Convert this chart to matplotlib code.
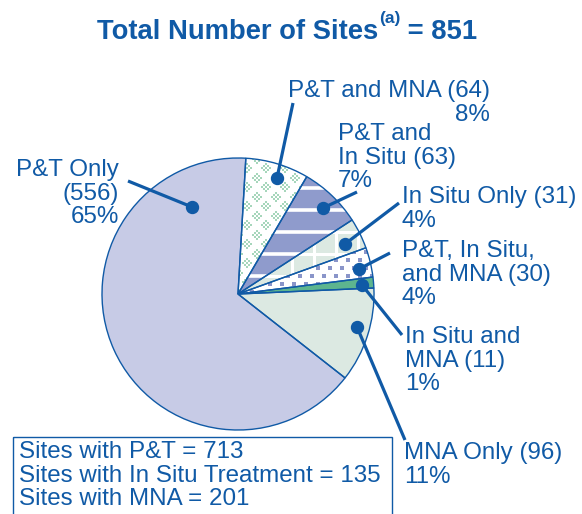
import matplotlib

matplotlib.use("Agg")
import matplotlib.pyplot as plt
import numpy as np
from matplotlib.patches import Rectangle, Wedge

# --- data -------------------------------------------------------------------
total_sites = 851
categories = [
    "P&T Only", "MNA Only", "In Situ and MNA", "P&T, In Situ, and MNA",
    "In Situ Only", "P&T and In Situ", "P&T and MNA",
]
counts = [556, 96, 11, 30, 31, 63, 64]
percents = [65, 11, 1, 4, 4, 7, 8]
# how each label is broken over lines in the figure
label_templates = [
    "P&T Only\n({n})\n{p}%",
    "MNA Only ({n})\n{p}%",
    "In Situ and\nMNA ({n})\n{p}%",
    "P&T, In Situ,\nand MNA ({n})\n{p}%",
    "In Situ Only ({n})\n{p}%",
    "P&T and\nIn Situ ({n})\n{p}%",
    "P&T and MNA ({n})\n{p}%",
]
summary_lines = [
    "Sites with P&T = 713",
    "Sites with In Situ Treatment = 135",
    "Sites with MNA = 201",
]

# --- style --------------------------------------------------------------------
W, H = 582, 514
BLUE = "#105aa6"
FONT = "Liberation Sans"
LABEL_SIZE = 17.4
face_colors = ["#c7cbe6", "#dce9e2", "#5db58f", "#ffffff", "#dce9e2", "#8f9bcc", "#ffffff"]
CENTER = (238, 294)
RADIUS = 136

# pixel layout: (dot x, dot y, leader end x, leader end y, text x, text y, ha, multialign)
layout = [
    (192, 207, 128, 181, 119, 159, "right", "right"),
    (357, 327, 405, 440, 404, 442, "left", "left"),
    (362, 285, 402, 335, 405, 326, "left", "left"),
    (359, 269, 390, 253, 402, 240, "left", "left"),
    (345, 244, 399, 203, 402, 186, "left", "left"),
    (323, 208, 357, 192, 338, 123, "left", "left"),
    (277, 178, 293, 103, 288, 80, "left", "right"),
]

fig = plt.figure(figsize=(W / 100, H / 100), dpi=100)
ax = fig.add_axes([0, 0, 1, 1])

# y axis points down so everything is laid out in pixel units
wedges, _ = ax.pie(
    counts, startangle=-86.7, counterclock=False, center=CENTER, radius=RADIUS,
    colors=face_colors, wedgeprops=dict(linewidth=0),
)
ax.set_xlim(0, W)
ax.set_ylim(H, 0)
ax.set_aspect("equal")
ax.axis("off")


def clipped_hlines(wedge, step, lw, color="white"):
    for y in np.arange(100, 450, step):
        (ln,) = ax.plot([0, W], [y, y], color=color, lw=lw, zorder=2, solid_capstyle="butt")
        ln.set_clip_path(wedge)


def clipped_vlines(wedge, xs, lw, color="white"):
    for x in xs:
        (ln,) = ax.plot([x, x], [0, H], color=color, lw=lw, zorder=2, solid_capstyle="butt")
        ln.set_clip_path(wedge)


# P&T and MNA: diamond clusters of fine checker squares
pts = []
for cx in np.arange(190, 400, 19):
    for cy in np.arange(130, 320, 19):
        for ox, oy in [(0, 0), (9.5, 9.5)]:
            for dx in range(-6, 7, 2):
                for dy in range(-6, 7, 2):
                    if abs(dx) + abs(dy) <= 5 and ((dx + dy) // 2) % 2 == 0:
                        pts.append((cx + ox + dx, cy + oy + dy))
pts = np.array(pts)
sc = ax.scatter(pts[:, 0], pts[:, 1], marker="s", s=2.6, color="#a6d6bb", linewidths=0, zorder=2)
sc.set_clip_path(wedges[6])

# P&T and In Situ: white horizontal stripes
clipped_hlines(wedges[5], 22, 2.6)
# In Situ Only: white grid
clipped_hlines(wedges[4], 22, 2.2)
clipped_vlines(wedges[4], np.arange(292, 400, 22), 2.2)
# P&T, In Situ, and MNA: blue dots
dots = []
for i, y in enumerate(np.arange(228, 300, 8)):
    for x in np.arange(240 + (i % 2) * 6, 400, 12):
        dots.append((x, y))
dots = np.array(dots)
sc = ax.scatter(dots[:, 0], dots[:, 1], marker="s", s=5.5, color="#8a95c9", linewidths=0, zorder=2)
sc.set_clip_path(wedges[3])

# outlines on top of the patterns
for w in wedges:
    ax.add_patch(Wedge(w.center, w.r, w.theta1, w.theta2, fill=False,
                       edgecolor=BLUE, linewidth=1.0, zorder=3))

# leaders, dots and labels
for tmpl, n, p, (dx, dy, ex, ey, tx, ty, ha, ma) in zip(label_templates, counts, percents, layout):
    ax.plot([dx, ex], [dy, ey], color=BLUE, lw=2.3, zorder=4, solid_capstyle="butt")
    ax.plot(dx, dy, "o", color=BLUE, ms=8.6, zorder=5)
    ax.text(tx, ty, tmpl.format(n=n, p=p), ha=ha, va="top", multialignment=ma,
            color=BLUE, fontsize=LABEL_SIZE, family=FONT, linespacing=1.1)

# title
t1 = ax.text(97, 39, "Total Number of Sites", color=BLUE, fontsize=19.7,
             family=FONT, fontweight="bold", va="baseline", ha="left")
t2 = ax.annotate("(a)", xy=(1, 1), xycoords=t1, xytext=(0.5, 6), textcoords="offset points",
                 color=BLUE, fontsize=12.5, family=FONT, fontweight="bold", va="top", ha="left")
ax.annotate(f" = {total_sites}", xy=(1, 0), xycoords=(t2, t1), color=BLUE, fontsize=19.7,
            family=FONT, fontweight="bold", va="bottom", ha="left")

# summary box
ax.add_patch(Rectangle((13, 437), 379, 90, fill=False, edgecolor=BLUE, lw=1.0, zorder=3))
ax.text(19, 441, "\n".join(summary_lines), ha="left", va="top", color=BLUE,
        fontsize=LABEL_SIZE, family=FONT, linespacing=1.1)

fig.savefig("out.png", dpi=100)
